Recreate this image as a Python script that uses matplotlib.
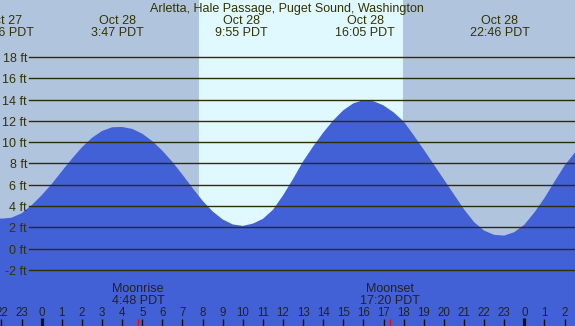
import matplotlib
matplotlib.use("Agg")
import matplotlib.pyplot as plt

# ---- data ----
title = "Arletta, Hale Passage, Puget Sound, Washington"
times = [-2.5, -2.0, -1.5, -1.0, -0.5, 0.0, 0.5, 1.0, 1.5, 2.0, 2.5, 3.0, 3.5,
         4.0, 4.5, 5.0, 5.5, 6.0, 6.5, 7.0, 7.5, 8.0, 8.5, 9.0, 9.5, 10.0,
         10.5, 11.0, 11.5, 12.0, 12.5, 13.0, 13.5, 14.0, 14.5, 15.0, 15.5,
         16.0, 16.5, 17.0, 17.5, 18.0, 18.5, 19.0, 19.5, 20.0, 20.5, 21.0,
         21.5, 22.0, 22.5, 23.0, 23.5, 24.0, 24.5, 25.0, 25.5, 26.0, 26.5, 27.0]
heights = [3.0, 2.82, 2.91, 3.32, 4.08, 5.02, 6.08, 7.27, 8.44, 9.52, 10.41, 11.05, 11.40,
           11.43, 11.25, 10.8, 10.1, 9.2, 8.15, 6.95, 5.7, 4.5, 3.5, 2.75, 2.28, 2.14,
           2.35, 2.8, 3.65, 5.0, 6.55, 8.2, 9.6, 10.9, 12.05, 13.0, 13.65,
           13.95, 13.85, 13.45, 12.8, 11.95, 10.65, 9.3, 7.9, 6.5, 5.1, 3.7,
           2.5, 1.7, 1.3, 1.23, 1.55, 2.25, 3.4, 4.75, 6.3, 7.8, 9.0, 10.1]
event_times = [-1.9, 3.783, 9.917, 16.083, 22.767]
event_dates = ["Oct 27", "Oct 28", "Oct 28", "Oct 28", "Oct 28"]
event_clock = ["22:06 PDT", "3:47 PDT", "9:55 PDT", "16:05 PDT", "22:46 PDT"]
sunrise, sunset = 7.82, 17.97
moon_times = [4.8, 17.333]
moon_names = ["Moonrise", "Moonset"]
moon_clock = ["4:48 PDT", "17:20 PDT"]
grid_ft = [18, 16, 14, 12, 10, 8, 6, 4, 2, 0, -2]
hour_ticks = list(range(-2, 27))

# ---- style ----
night_c = "#b0c4de"
day_c = "#e0f8ff"
water_c = "#4261d7"
line_c = "#2e2e05"
text_c = "#333300"
font = "Liberation Sans"

fig = plt.figure(figsize=(5.75, 3.26), dpi=100)
ax = fig.add_axes([0, 0, 1, 1])
ax.set_xlim(-2.0736, 26.52)
ax.set_ylim(-7.258, 23.35)
ax.axis("off")

ax.axvspan(-5, 40, color=night_c, zorder=0, lw=0)
ax.axvspan(sunrise, sunset, color=day_c, zorder=0.5, lw=0)
ax.fill_between(times, heights, -20, color=water_c, zorder=1, lw=0)

for g in grid_ft:
    ax.axhline(g, xmin=29 / 575, xmax=1, color=line_c, lw=1.0, zorder=2)
    ax.text(-0.73, g - 0.47, f"{g} ft", ha="right", va="baseline",
            fontsize=9, color=text_c, family=font, zorder=3)

ax.text(12.2, 22.25, title, ha="center", va="baseline", fontsize=9,
        color=text_c, family=font, zorder=3)
for t, d, c in zip(event_times, event_dates, event_clock):
    ax.text(t, 21.1, d, ha="center", va="baseline", fontsize=9,
            color=text_c, family=font, zorder=3)
    ax.text(t, 19.97, c, ha="center", va="baseline", fontsize=9,
            color=text_c, family=font, zorder=3)

for h in hour_ticks:
    lab = str(h % 24)
    ax.text(h, -6.29, lab, ha="center", va="baseline", fontsize=8.3,
            color="#222222", family=font, zorder=3)
    if h % 24 == 0:
        ax.vlines(h, -7.4, -6.51, color="#111111", lw=2.3, zorder=3)
    else:
        ax.vlines(h, -7.4, -6.6, color="#111111", lw=1.0, zorder=3)

for t, n, c in zip(moon_times, moon_names, moon_clock):
    ax.vlines(t, -7.4, -6.6, color="red", lw=1.0, zorder=3)
    ax.text(t, -4.04, n, ha="center", va="baseline", fontsize=9,
            color="#222222", family=font, zorder=3)
    ax.text(t, -5.19, c, ha="center", va="baseline", fontsize=9,
            color="#222222", family=font, zorder=3)

fig.savefig("out.png", dpi=100)
